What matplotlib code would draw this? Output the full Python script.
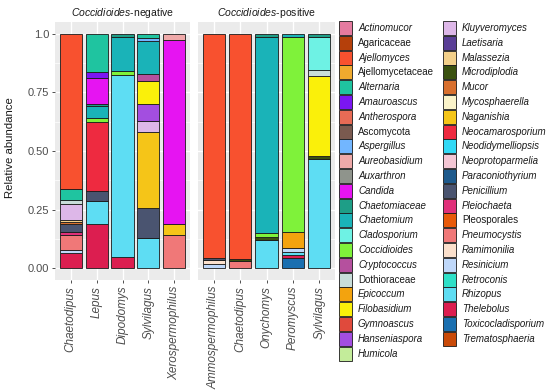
import matplotlib
matplotlib.use('Agg')
import matplotlib.pyplot as plt
from matplotlib.patches import Rectangle

plt.rcParams['font.family'] = ['Liberation Sans', 'DejaVu Sans']
plt.rcParams['mathtext.fontset'] = 'custom'
plt.rcParams['mathtext.it'] = 'Liberation Sans:italic'
plt.rcParams['mathtext.rm'] = 'Liberation Sans'

########################################################################################################################
## Data
########################################################################################################################
taxa = ["Actinomucor", "Agaricaceae", "Ajellomyces", "Ajellomycetaceae", "Alternaria", "Amauroascus",
        "Antherospora", "Ascomycota", "Aspergillus", "Aureobasidium", "Auxarthron", "Candida",
        "Chaetomiaceae", "Chaetomium", "Cladosporium", "Coccidioides", "Cryptococcus", "Dothioraceae",
        "Epicoccum", "Filobasidium", "Gymnoascus", "Hanseniaspora", "Humicola",
        "Kluyveromyces", "Laetisaria", "Malassezia", "Microdiplodia", "Mucor", "Mycosphaerella",
        "Naganishia", "Neocamarosporium", "Neodidymelliopsis", "Neoprotoparmelia", "Paraconiothyrium",
        "Penicillium", "Pleiochaeta", "Pleosporales", "Pneumocystis", "Ramimonilia", "Resinicium",
        "Retroconis", "Rhizopus", "Thelebolus", "Toxicocladisporium", "Trematosphaeria"]

taxa_colors = ["#E57BA0", "#B5400B", "#F8512F", "#F0AA2E", "#1FC4A0", "#7B16F3",
               "#E86B55", "#7A5A4F", "#72B6FF", "#EFA9A9", "#8F948C", "#E614F2",
               "#1E9E87", "#1AB3B8", "#6EF2E4", "#7FF23A", "#B5509E", "#C8DDD9",
               "#F3A30E", "#FAF00A", "#E04A3C", "#A34EE0", "#C3EC9A",
               "#DDB7E8", "#5A3E96", "#F3D08A", "#3B5210", "#D9702E", "#FAF3C9",
               "#F5C518", "#EE2A40", "#32D9F5", "#F4C6D4", "#1E5A8C",
               "#4A5470", "#E0307A", "#E85A0A", "#F07878", "#FBE0CC", "#BFD8FA",
               "#2EE0C8", "#5EDDF3", "#DC1E50", "#1A6FB0", "#C94A08"]

not_italic = ["Agaricaceae", "Ajellomycetaceae", "Ascomycota", "Dothioraceae", "Pleosporales"]

neg_hosts = ["Chaetodipus", "Lepus", "Dipodomys", "Sylvilagus", "Xerospermophilus"]
pos_hosts = ["Ammospermophilus", "Chaetodipus", "Onychomys", "Peromyscus", "Sylvilagus"]

neg_chaetodipus = {"Ajellomyces": 0.664, "Alternaria": 0.046, "Dothioraceae": 0.015, "Kluyveromyces": 0.070,
                   "Malassezia": 0.008, "Mucor": 0.010, "Penicillium": 0.032, "Pleiochaeta": 0.015,
                   "Pneumocystis": 0.060, "Resinicium": 0.015, "Thelebolus": 0.065}
neg_lepus = {"Alternaria": 0.165, "Amauroascus": 0.025, "Candida": 0.110, "Chaetomiaceae": 0.010,
             "Chaetomium": 0.050, "Coccidioides": 0.015, "Neocamarosporium": 0.295, "Penicillium": 0.045,
             "Rhizopus": 0.095, "Thelebolus": 0.190}
neg_dipodomys = {"Chaetomiaceae": 0.015, "Chaetomium": 0.145, "Coccidioides": 0.015, "Rhizopus": 0.775,
                 "Thelebolus": 0.050}
neg_sylvilagus = {"Alternaria": 0.020, "Aspergillus": 0.012, "Chaetomium": 0.138, "Cryptococcus": 0.030,
                  "Filobasidium": 0.100, "Hanseniaspora": 0.070, "Kluyveromyces": 0.050, "Naganishia": 0.325,
                  "Penicillium": 0.127, "Rhizopus": 0.128}
neg_xerospermophilus = {"Aureobasidium": 0.025, "Candida": 0.785, "Naganishia": 0.050, "Pneumocystis": 0.140}

pos_ammospermophilus = {"Ajellomyces": 0.955, "Penicillium": 0.010, "Ramimonilia": 0.015, "Resinicium": 0.020}
pos_chaetodipus = {"Ajellomyces": 0.960, "Microdiplodia": 0.008, "Pneumocystis": 0.032}
pos_onychomys = {"Chaetomiaceae": 0.015, "Chaetomium": 0.835, "Coccidioides": 0.018, "Microdiplodia": 0.012,
                 "Rhizopus": 0.120}
pos_peromyscus = {"Chaetomium": 0.015, "Coccidioides": 0.830, "Epicoccum": 0.070, "Resinicium": 0.015,
                  "Rhizopus": 0.012, "Thelebolus": 0.015, "Toxicocladisporium": 0.043}
pos_sylvilagus = {"Chaetomiaceae": 0.015, "Cladosporium": 0.140, "Dothioraceae": 0.027, "Filobasidium": 0.338,
                  "Microdiplodia": 0.012, "Rhizopus": 0.468}

neg_values = [neg_chaetodipus, neg_lepus, neg_dipodomys, neg_sylvilagus, neg_xerospermophilus]
pos_values = [pos_ammospermophilus, pos_chaetodipus, pos_onychomys, pos_peromyscus, pos_sylvilagus]

y_ticks = [0, 0.25, 0.5, 0.75, 1.0]
y_labels = ["0.00", "0.25", "0.50", "0.75", "1.0"]
########################################################################################################################

W, H = 550, 392
fig = plt.figure(figsize=(W / 100, H / 100), dpi=100)
ax_neg = fig.add_axes([55 / W, 1 - 280 / H, 135 / W, 258 / H])
ax_pos = fig.add_axes([198 / W, 1 - 280 / H, 137 / W, 258 / H])

color_of = dict(zip(taxa, taxa_colors))


def draw_panel(ax, hosts, values, title):
    ax.set_facecolor('#EBEBEB')
    bottoms = [0.0] * len(hosts)
    # first taxon sits on top of the stack, like ggplot
    for taxon in reversed(taxa):
        for i, sample in enumerate(values):
            h = sample.get(taxon, 0)
            if h > 0:
                ax.bar(i, h, bottom=bottoms[i], width=0.85, color=color_of[taxon],
                       edgecolor='#1a1a1a', linewidth=0.6, zorder=3)
                bottoms[i] += h

    ax.set_xlim(-0.6, len(hosts) - 0.4)
    ax.set_ylim(-0.05, 1.05)
    ax.set_xticks(range(len(hosts)))
    ax.set_xticklabels(hosts, rotation=90, fontstyle='italic', fontsize=8.5, color='#4D4D4D')
    ax.set_yticks(y_ticks)
    ax.set_yticks([0.125, 0.375, 0.625, 0.875], minor=True)
    ax.grid(True, which='major', color='white', linewidth=1.0, zorder=0)
    ax.grid(True, which='minor', axis='y', color='white', linewidth=0.5, zorder=0)
    ax.set_axisbelow(True)
    for s in ax.spines.values():
        s.set_visible(False)
    ax.tick_params(axis='x', length=2.2, width=0.6, color='#333333', pad=2)
    ax.tick_params(axis='y', which='minor', length=0)
    ax.set_title(title, fontsize=7.5, pad=4, color='#1a1a1a')


draw_panel(ax_neg, neg_hosts, neg_values, r'$\mathit{Coccidioides}$-negative')
draw_panel(ax_pos, pos_hosts, pos_values, r'$\mathit{Coccidioides}$-positive')

ax_neg.set_yticklabels(y_labels, fontsize=8, color='#4D4D4D')
ax_neg.tick_params(axis='y', which='major', length=2.2, width=0.6, color='#333333', pad=2)
ax_pos.tick_params(axis='y', which='major', length=0, labelleft=False)

fig.text(10 / W, 1 - 148 / H, 'Relative abundance', rotation=90, ha='center', va='center',
         fontsize=8.2, color='#1a1a1a')

# legend, two columns
per_col = 23
for i, taxon in enumerate(taxa):
    col = i // per_col
    row = i % per_col
    kx = 339 + col * 104
    ky = 21 + row * 14.8
    fig.add_artist(Rectangle((kx / W, 1 - (ky + 14) / H), 13 / W, 14 / H, transform=fig.transFigure,
                             facecolor=color_of[taxon], edgecolor='#1a1a1a', linewidth=0.6))
    style = 'normal' if taxon in not_italic else 'italic'
    fig.text((kx + 19) / W, 1 - (ky + 7) / H, taxon, fontsize=7, fontstyle=style,
             ha='left', va='center', color='#1a1a1a')

fig.savefig('out.png', dpi=100)
